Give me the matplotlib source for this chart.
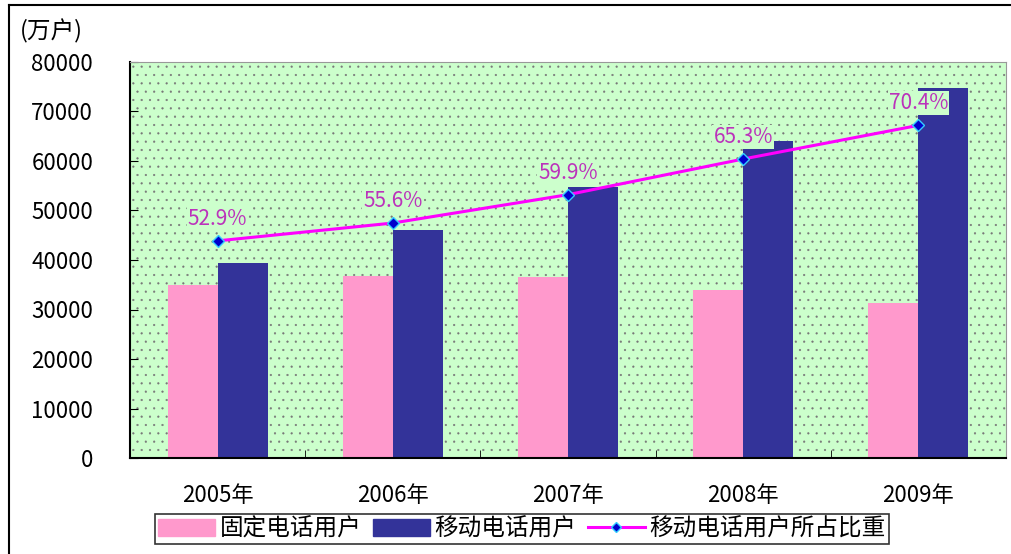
import matplotlib
matplotlib.use("Agg")
import matplotlib.pyplot as plt
from matplotlib.patches import Rectangle
from matplotlib.lines import Line2D
import numpy as np

plt.rcParams['font.family'] = ['Noto Sans CJK SC', 'DejaVu Sans']
plt.rcParams['hatch.linewidth'] = 0.35

years = ['2005年', '2006年', '2007年', '2008年', '2009年']
fixed_users = [35045, 36779, 36545, 34036, 31373]
mobile_users = [39341, 46106, 54731, 64124, 74721]
mobile_share = [52.9, 55.6, 59.9, 65.3, 70.4]
share_labels = ['52.9%', '55.6%', '59.9%', '65.3%', '70.4%']

pink = '#ff99cc'
navy = '#333399'
bg_green = '#ccffcc'

fig = plt.figure(figsize=(10.12, 5.54), dpi=100)
ax = fig.add_axes([130 / 1012, 1 - 458 / 554, 876 / 1012, 396 / 554])

# dotted green plot area
ax.set_facecolor(bg_green)
ax.add_patch(Rectangle((0, 0), 1, 1, transform=ax.transAxes, facecolor='none',
                       edgecolor='#777777', lw=0, hatch='..', zorder=0))

x = np.arange(len(years))
w = 0.285
ax.bar(x - w / 2, fixed_users, w, color=pink, zorder=2, label='固定电话用户')
ax.bar(x + w / 2, mobile_users, w, color=navy, zorder=2, label='移动电话用户')

ax.set_xlim(-0.5, len(years) - 0.5)
ax.set_ylim(0, 80000)
ax.set_yticks(range(0, 80001, 10000))
ax.set_xticks(x)
ax.set_xticklabels(years)
ax.set_xticks(x[:-1] + 0.5, minor=True)
ax.tick_params(axis='x', which='major', length=0, pad=19, labelsize=16)
ax.tick_params(axis='x', which='minor', direction='in', length=6, color='black')
ax.tick_params(axis='y', direction='in', length=6, pad=26.5, labelsize=16)

for s in ['left', 'bottom']:
    ax.spines[s].set_color('black')
    ax.spines[s].set_linewidth(1.5)
for s in ['top', 'right']:
    ax.spines[s].set_color('#999999')
    ax.spines[s].set_linewidth(0.8)

# share line on a hidden secondary axis
ax2 = ax.twinx()
ax2.set_ylim(20, 80)
ax2.set_yticks([])
ax2.spines[:].set_visible(False)
ax2.plot(x, mobile_share, color='#ff00ff', lw=2.2, marker='D', ms=6,
         mfc='#0000cc', mec='#33ccff', mew=1, zorder=3)
for xi, yi, lab in zip(x, mobile_share, share_labels):
    ax2.annotate(lab, (xi, yi), xytext=(0, 8), textcoords='offset points',
                 ha='center', va='bottom', color='#bb33bb', fontsize=15,
                 bbox=dict(boxstyle='square,pad=0.05', fc=bg_green, ec='none'))

fig.text(20 / 1012, 1 - 31 / 554, '(万户)', fontsize=17, ha='left', va='center')

handles = [Rectangle((0, 0), 1, 1, color=pink),
           Rectangle((0, 0), 1, 1, color=navy),
           Line2D([], [], color='#ff00ff', lw=2.2, marker='D', ms=5,
                  mfc='#0000cc', mec='#33ccff')]
labels = ['固定电话用户', '移动电话用户', '移动电话用户所占比重']
leg = fig.legend(handles, labels, loc='center', ncol=3,
                 bbox_to_anchor=(522 / 1012, 1 - 529 / 554), fontsize=17,
                 frameon=True, fancybox=False, edgecolor='black',
                 handlelength=2.4, handleheight=0.7, columnspacing=0.5,
                 handletextpad=0.2, borderpad=0.15, borderaxespad=0)
leg.get_frame().set_linewidth(1.2)

# outer border (left and top visible)
fig.add_artist(Line2D([9 / 1012, 9 / 1012], [0, 1 - 5 / 554], color='black', lw=1.5,
                      transform=fig.transFigure))
fig.add_artist(Line2D([9 / 1012, 1], [1 - 5 / 554, 1 - 5 / 554], color='black', lw=1.5,
                      transform=fig.transFigure))

fig.savefig('out.png', dpi=100)
